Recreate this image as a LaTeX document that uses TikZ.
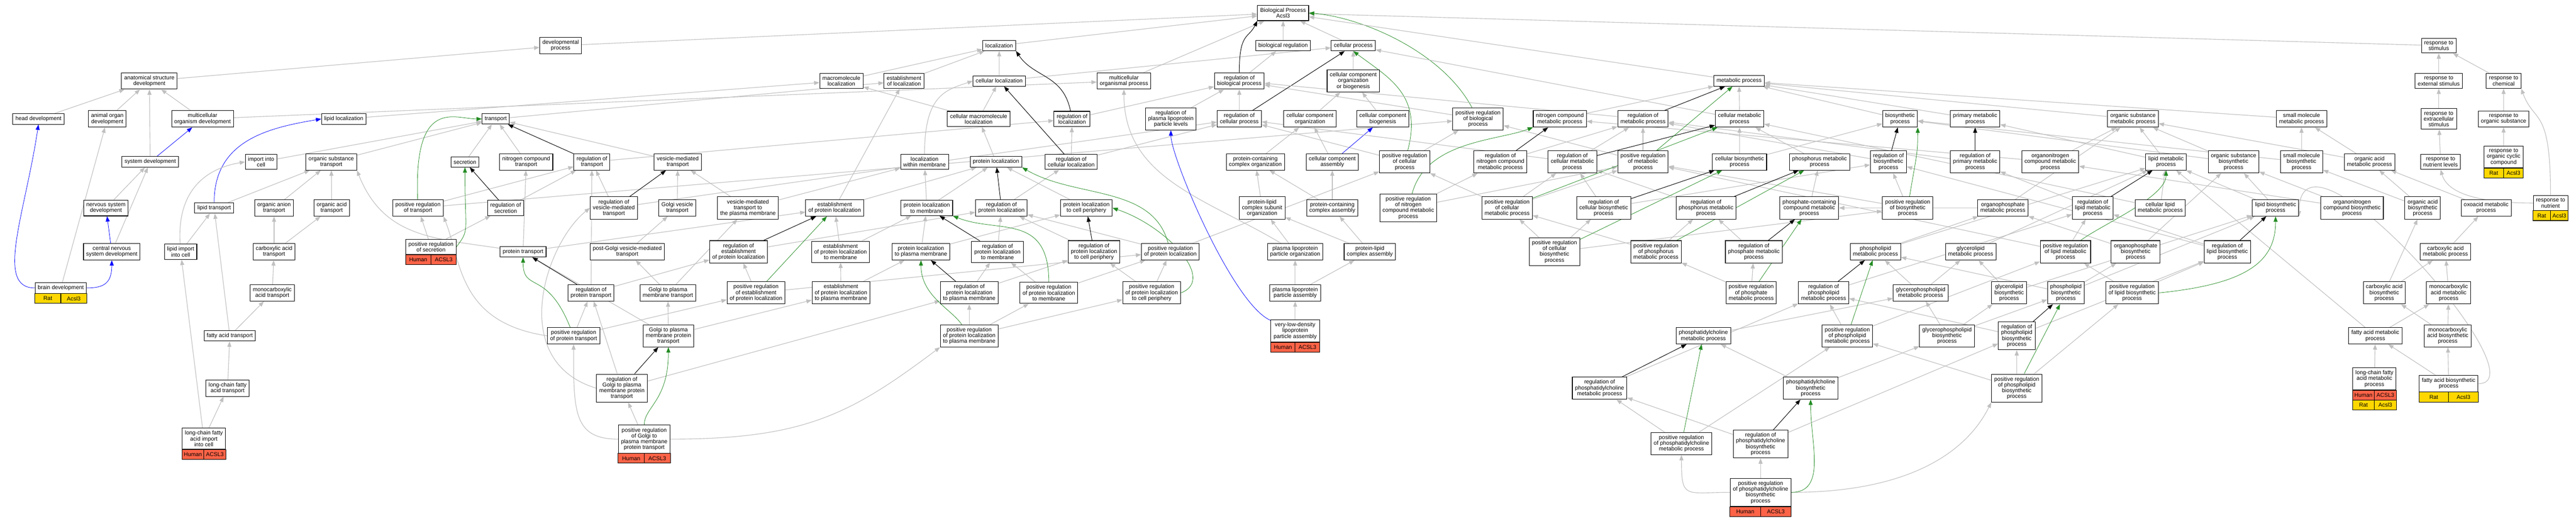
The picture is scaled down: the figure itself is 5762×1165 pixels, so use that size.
\documentclass[tikz,border=0pt]{standalone}
\usepackage{fontspec}
\setmainfont{Liberation Sans}
\usetikzlibrary{arrows.meta, calc, backgrounds}
\definecolor{isagray}{RGB}{192,192,192}
\definecolor{posgreen}{RGB}{34,139,34}
\definecolor{human}{RGB}{255,99,71}
\definecolor{rat}{RGB}{255,215,0}

% gene row under a term: node, offset, species, gene, colour
\newcommand{\generow}[5]{%
  \draw[line width=1.2pt, fill=#5] ($(#1.south west)+(0,#2)$) rectangle ($(#1.south east)+(0,#2+22)$);
  \draw[line width=1.2pt] ($(#1.south)+(0,#2)$) -- ($(#1.south)+(0,#2+22)$);
  \node[genetext] (#1-#3) at ($(#1.south west)!0.25!(#1.south east)+(0,#2+11)$) {#3};
  \node[genetext] (#1-#4) at ($(#1.south west)!0.75!(#1.south east)+(0,#2+11)$) {#4};
}

\begin{document}
\begin{tikzpicture}[
    x=1pt, y=-1pt,
    term/.style={rectangle, draw, line width=1.2pt, fill=white, align=center, inner xsep=6pt, inner ysep=6pt, minimum height=23pt, font=\fontsize{12.5}{13}\selectfont},
    genetext/.style={inner sep=0pt, font=\fontsize{12.5}{13}\selectfont},
    isa/.style={-{Triangle[length=12pt,width=9pt]}, draw=isagray, line width=1.3pt},
    reg/.style={isa, draw=black, line width=1.1pt},
    posreg/.style={isa, draw=posgreen, line width=0.9pt},
    partof/.style={isa, draw=blue, line width=0.9pt}
]
\useasboundingbox (0,0) rectangle (5762,1165);

% row 1
\node[term] (bp) at (2870,29) {Biological Process\\Acsl3};
% row 2
\node[term] (devproc) at (1254,102) {developmental\\process};
\node[term] (loc) at (2235,102) {localization};
\node[term] (bioreg) at (2870,102) {biological regulation};
\node[term] (cellproc) at (3027,102) {cellular process};
\node[term] (respstim) at (5455,102) {response to\\stimulus};
% row 3
\node[term] (asdev) at (334,181) {anatomical structure\\development};
\node[term] (macroloc) at (1882,181) {macromolecule\\localization};
\node[term] (estloc) at (2022,181) {establishment\\of localization};
\node[term] (cellloc) at (2235,181) {cellular localization};
\node[term] (mcorgproc) at (2514,181) {multicellular\\organismal process};
\node[term] (regbio) at (2772,181) {regulation of\\biological process};
\node[term] (ccob) at (3027,181) {cellular component\\organization\\or biogenesis};
\node[term] (metab) at (3890,181) {metabolic process};
\node[term] (respext) at (5455,181) {response to\\external stimulus};
\node[term] (respchem) at (5600,181) {response to\\chemical};
% row 4
\node[term] (headdev) at (86,266) {head development};
\node[term] (organdev) at (240,266) {animal organ\\development};
\node[term] (mcodev) at (453,266) {multicellular\\organism development};
\node[term] (lipidloc) at (769,266) {lipid localization};
\node[term] (transport) at (1109,266) {transport};
\node[term] (cmacroloc) at (2189,266) {cellular macromolecule\\localization};
\node[term] (regloc) at (2398,266) {regulation of\\localization};
\node[term] (regplpl) at (2619,266) {regulation of\\plasma lipoprotein\\particle levels};
\node[term] (regcell) at (2772,266) {regulation of\\cellular process};
\node[term] (ccorg) at (2930,266) {cellular component\\organization};
\node[term] (ccbio) at (3093,266) {cellular component\\biogenesis};
\node[term] (posbio) at (3306,266) {positive regulation\\of biological\\process};
\node[term] (ncmp) at (3489,266) {nitrogen compound\\metabolic process};
\node[term] (regmet) at (3675,266) {regulation of\\metabolic process};
\node[term] (cmp) at (3891,266) {cellular metabolic\\process};
\node[term] (biosyn) at (4250,266) {biosynthetic\\process};
\node[term] (primet) at (4418,266) {primary metabolic\\process};
\node[term] (osmp) at (4771,266) {organic substance\\metabolic process};
\node[term] (smmp) at (5148,266) {small molecule\\metabolic process};
\node[term] (respextra) at (5455,266) {response to\\extracellular\\stimulus};
\node[term] (resporg) at (5600,266) {response to\\organic substance};
% row 5
\node[term] (sysdev) at (336,362) {system development};
\node[term] (import) at (584,362) {import into\\cell};
\node[term] (ostrans) at (741,362) {organic substance\\transport};
\node[term] (secretion) at (1040,362) {secretion};
\node[term] (ntrans) at (1177,362) {nitrogen compound\\transport};
\node[term] (regtrans) at (1324,362) {regulation of\\transport};
\node[term] (vesic) at (1516,362) {vesicle-mediated\\transport};
\node[term] (locmem) at (2068,362) {localization\\within membrane};
\node[term] (protloc) at (2228,362) {protein localization};
\node[term] (regcloc) at (2396,362) {regulation of\\cellular localization};
\node[term] (pccorg) at (2808,362) {protein-containing\\complex organization};
\node[term] (ccass) at (2980,362) {cellular component\\assembly};
\node[term] (poscell) at (3142,362) {positive regulation\\of cellular\\process};
\node[term] (regncmp) at (3356,362) {regulation of\\nitrogen compound\\metabolic process};
\node[term] (regcmp) at (3517,362) {regulation of\\cellular metabolic\\process};
\node[term] (posmet) at (3675,362) {positive regulation\\of metabolic\\process};
\node[term] (cbp) at (3891,362) {cellular biosynthetic\\process};
\node[term] (phosmp) at (4070,362) {phosphorus metabolic\\process};
\node[term] (regbiosyn) at (4224,362) {regulation of\\biosynthetic\\process};
\node[term] (regprimet) at (4418,362) {regulation of\\primary metabolic\\process};
\node[term] (oncmp) at (4586,362) {organonitrogen\\compound metabolic\\process};
\node[term] (lmp) at (4845,362) {lipid metabolic\\process};
\node[term] (osbp) at (4996,362) {organic substance\\biosynthetic\\process};
\node[term] (smbp) at (5148,362) {small molecule\\biosynthetic\\process};
\node[term] (oamp) at (5300,362) {organic acid\\metabolic process};
\node[term] (respnutlev) at (5459,362) {response to\\nutrient levels};
\node[term] (respcyc) at (5600,351) {response to\\organic cyclic\\compound};
% row 6
\node[term] (nsdev) at (237,465) {nervous system\\development};
\node[term] (liptrans) at (479,465) {lipid transport};
\node[term] (oantrans) at (613,465) {organic anion\\transport};
\node[term] (oactrans) at (742,465) {organic acid\\transport};
\node[term] (postrans) at (935,465) {positive regulation\\of transport};
\node[term] (regsec) at (1131,465) {regulation of\\secretion};
\node[term] (regvesic) at (1373,465) {regulation of\\vesicle-mediated\\transport};
\node[term] (golgives) at (1515,465) {Golgi vesicle\\transport};
\node[term] (vesicpm) at (1673,465) {vesicle-mediated\\transport to\\the plasma membrane};
\node[term] (estprot) at (1867,465) {establishment\\of protein localization};
\node[term] (protmem) at (2073,465) {protein localization\\to membrane};
\node[term] (regprot) at (2240,465) {regulation of\\protein localization};
\node[term] (protperi) at (2430,465) {protein localization\\to cell periphery};
\node[term] (plcso) at (2823,465) {protein-lipid\\complex subunit\\organization};
\node[term] (pccass) at (2980,465) {protein-containing\\complex assembly};
\node[term] (posncmp) at (3150,465) {positive regulation\\of nitrogen\\compound metabolic\\process};
\node[term] (poscmp) at (3371,465) {positive regulation\\of cellular\\metabolic process};
\node[term] (regcbp) at (3587,465) {regulation of\\cellular biosynthetic\\process};
\node[term] (regphos) at (3816,465) {regulation of\\phosphorus metabolic\\process};
\node[term] (pccmp) at (4047,465) {phosphate-containing\\compound metabolic\\process};
\node[term] (posbiosyn) at (4267,465) {positive regulation\\of biosynthetic\\process};
\node[term] (opmp) at (4480,465) {organophosphate\\metabolic process};
\node[term] (reglmp) at (4681,465) {regulation of\\lipid metabolic\\process};
\node[term] (clmp) at (4832,465) {cellular lipid\\metabolic process};
\node[term] (lbp) at (5090,465) {lipid biosynthetic\\process};
\node[term] (oncbp) at (5261,465) {organonitrogen\\compound biosynthetic\\process};
\node[term] (oabp) at (5419,465) {organic acid\\biosynthetic\\process};
\node[term] (oxomp) at (5561,465) {oxoacid metabolic\\process};
\node[term] (respnut) at (5705,454) {response to\\nutrient};
% row 7
\node[term] (cnsdev) at (250,563) {central nervous\\system development};
\node[term] (lipimport) at (404,563) {lipid import\\into cell};
\node[term] (catrans) at (613,563) {carboxylic acid\\transport};
\node[term] (possec) at (964,552) {positive regulation\\of secretion};
\node[term] (prottrans) at (1170,563) {protein transport};
\node[term] (postgolgi) at (1403,563) {post-Golgi vesicle-mediated\\transport};
\node[term] (regestprot) at (1652,563) {regulation of\\establishment\\of protein localization};
\node[term] (estprotmem) at (1880,563) {establishment\\of protein localization\\to membrane};
\node[term] (protpm) at (2060,563) {protein localization\\to plasma membrane};
\node[term] (regprotmem) at (2231,563) {regulation of\\protein localization\\to membrane};
\node[term] (regprotperi) at (2447,563) {regulation of\\protein localization\\to cell periphery};
\node[term] (posprot) at (2618,563) {positive regulation\\of protein localization};
\node[term] (plpo) at (2897,563) {plasma lipoprotein\\particle organization};
\node[term] (plca) at (3064,563) {protein-lipid\\complex assembly};
\node[term] (poscbp) at (3477,563) {positive regulation\\of cellular\\biosynthetic\\process};
\node[term] (posphos) at (3704,563) {positive regulation\\of phosphorus\\metabolic process};
\node[term] (regphosph) at (3923,563) {regulation of\\phosphate metabolic\\process};
\node[term] (plmp) at (4195,563) {phospholipid\\metabolic process};
\node[term] (glmp) at (4408,563) {glycerolipid\\metabolic process};
\node[term] (poslmp) at (4620,563) {positive regulation\\of lipid metabolic\\process};
\node[term] (opbp) at (4777,563) {organophosphate\\biosynthetic\\process};
\node[term] (reglbp) at (4982,563) {regulation of\\lipid biosynthetic\\process};
\node[term] (camp) at (5470,563) {carboxylic acid\\metabolic process};
% row 8
\node[term] (braindev) at (136,644) {brain development};
\node[term] (mctrans) at (609,655) {monocarboxylic\\acid transport};
\node[term] (regprottrans) at (1322,655) {regulation of\\protein transport};
\node[term] (golgipm) at (1494,655) {Golgi to plasma\\membrane transport};
\node[term] (posestprot) at (1691,655) {positive regulation\\of establishment\\of protein localization};
\node[term] (estprotpm) at (1881,655) {establishment\\of protein localization\\to plasma membrane};
\node[term] (regprotpm) at (2168,655) {regulation of\\protein localization\\to plasma membrane};
\node[term] (posprotmem) at (2346,655) {positive regulation\\of protein localization\\to membrane};
\node[term] (posprotperi) at (2576,655) {positive regulation\\of protein localization\\to cell periphery};
\node[term] (plpa) at (2897,655) {plasma lipoprotein\\particle assembly};
\node[term] (posphosph) at (3917,655) {positive regulation\\of phosphate\\metabolic process};
\node[term] (regplmp) at (4079,655) {regulation of\\phospholipid\\metabolic process};
\node[term] (gplmp) at (4296,655) {glycerophospholipid\\metabolic process};
\node[term] (glbp) at (4494,655) {glycerolipid\\biosynthetic\\process};
\node[term] (plbp) at (4621,655) {phospholipid\\biosynthetic\\process};
\node[term] (poslbp) at (4769,655) {positive regulation\\of lipid biosynthetic\\process};
\node[term] (cabp) at (5333,655) {carboxylic acid\\biosynthetic\\process};
\node[term] (mamp) at (5477,655) {monocarboxylic\\acid metabolic\\process};
% row 9
\node[term] (fatrans) at (514,751) {fatty acid transport};
\node[term] (posprottrans) at (1283,751) {positive regulation\\of protein transport};
\node[term] (golgipmprot) at (1495,751) {Golgi to plasma\\membrane protein\\transport};
\node[term] (posprotpm) at (2168,751) {positive regulation\\of protein localization\\to plasma membrane};
\node[term] (vldl) at (2897,740) {very-low-density\\lipoprotein\\particle assembly};
\node[term] (pcmp) at (3810,751) {phosphatidylcholine\\metabolic process};
\node[term] (posplmp) at (4132,751) {positive regulation\\of phospholipid\\metabolic process};
\node[term] (gplbp) at (4355,751) {glycerophospholipid\\biosynthetic\\process};
\node[term] (regplbp) at (4511,751) {regulation of\\phospholipid\\biosynthetic\\process};
\node[term] (famp) at (5313,751) {fatty acid metabolic\\process};
\node[term] (mabp) at (5475,751) {monocarboxylic\\acid biosynthetic\\process};
% row 10
\node[term] (lcfatrans) at (509,868) {long-chain fatty\\acid transport};
\node[term] (reggolgi) at (1391,868) {regulation of\\Golgi to plasma\\membrane protein\\transport};
\node[term] (regpcmp) at (3578,868) {regulation of\\phosphatidylcholine\\metabolic process};
\node[term] (pcbp) at (4050,868) {phosphatidylcholine\\biosynthetic\\process};
\node[term] (posplbp) at (4511,868) {positive regulation\\of phospholipid\\biosynthetic\\process};
\node[term] (lcfamp) at (5311,847) {long-chain fatty\\acid metabolic\\process};
\node[term] (fabp) at (5477,858) {fatty acid biosynthetic\\process};
% row 11
\node[term] (lcfaimport) at (456,981) {long-chain fatty\\acid import\\into cell};
\node[term] (posgolgi) at (1441,982) {positive regulation\\of Golgi to\\plasma membrane\\protein transport};
\node[term] (pospcmp) at (3761,992) {positive regulation\\of phosphatidylcholine\\metabolic process};
\node[term] (regpcbp) at (3938,993) {regulation of\\phosphatidylcholine\\biosynthetic\\process};
% row 12
\node[term] (pospcbp) at (3938,1101) {positive regulation\\of phosphatidylcholine\\biosynthetic\\process};

% annotations
\generow{respcyc}{0}{Rat}{Acsl3}{rat}
\generow{respnut}{0}{Rat}{Acsl3}{rat}
\generow{possec}{0}{Human}{ACSL3}{human}
\generow{braindev}{0}{Rat}{Acsl3}{rat}
\generow{vldl}{0}{Human}{ACSL3}{human}
\generow{lcfamp}{0}{Human}{ACSL3}{human}
\generow{lcfamp}{22}{Rat}{Acsl3}{rat}
\generow{fabp}{0}{Rat}{Acsl3}{rat}
\generow{lcfaimport}{0}{Human}{ACSL3}{human}
\generow{posgolgi}{0}{Human}{ACSL3}{human}
\generow{pospcbp}{0}{Human}{ACSL3}{human}

\begin{scope}[on background layer]
\fill[white] (0,0) rectangle (5762,1165);
% development
\draw[isa] (asdev) -- (devproc);
\draw[isa] (headdev) -- (asdev);
\draw[isa] (organdev) -- (asdev);
\draw[isa] (sysdev) -- (asdev);
\draw[isa] (mcodev) -- (asdev);
\draw[isa] (mcodev) -- (mcorgproc);
\draw[isa] (nsdev) -- (sysdev);
\draw[isa] (cnsdev) -- (sysdev);
\draw[isa] (braindev) -- (organdev);
\draw[isa] (devproc) -- (bp);
\draw[isa] (mcorgproc) -- (bp);
\draw[partof] (sysdev) -- (mcodev);
\draw[partof] (cnsdev) -- (nsdev);
\draw[partof] (braindev.east) .. controls +(40,0) and +(0,50) .. (cnsdev.south);
\draw[partof] (braindev.west) .. controls +(-90,0) and +(-30,200) .. (headdev.south);
% transport
\draw[partof] (liptrans) .. controls +(0,-150) and +(-120,20) .. (lipidloc.west);
\draw[isa] (lipidloc) -- (macroloc);
\draw[isa] (liptrans) -- (ostrans);
\draw[isa] (lipimport) -- (liptrans);
\draw[isa] (lipimport) .. controls +(-10,-160) and +(-60,10) .. (import.west);
\draw[isa] (import) -- (transport);
\draw[isa] (ostrans) -- (transport);
\draw[isa] (oantrans) -- (ostrans);
\draw[isa] (oactrans) -- (ostrans);
\draw[isa] (catrans) -- (oantrans);
\draw[isa] (catrans) -- (oactrans);
\draw[isa] (mctrans) -- (catrans);
\draw[isa] (fatrans) -- (mctrans);
\draw[isa] (fatrans) -- (liptrans);
\draw[isa] (lcfatrans) -- (fatrans);
\draw[isa] (lcfaimport) -- (lcfatrans);
\draw[isa] (lcfaimport) -- (lipimport);
\draw[isa] (transport) -- (estloc);
\draw[isa] (secretion) -- (transport);
\draw[isa] (ntrans) -- (transport);
\draw[isa] (vesic) -- (transport);
\draw[isa] (regtrans) -- (regloc);
\draw[isa] (postrans) -- (regtrans);
\draw[isa] (postrans) -- (posbio);
\draw[isa] (regsec) -- (regtrans);
\draw[isa] (possec) -- (regsec);
\draw[isa] (possec) -- (postrans);
\draw[isa] (regvesic) -- (regtrans);
\draw[isa] (regvesic) -- (regcell);
\draw[isa] (golgives) -- (vesic);
\draw[isa] (vesicpm) -- (vesic);
\draw[isa] (vesicpm) -- (locmem);
\draw[isa] (estprot) -- (estloc);
\draw[isa] (estprot) -- (protloc);
\draw[isa] (prottrans) .. controls +(-200,-30) and +(60,150) .. (ostrans.south east);
\draw[isa] (prottrans) -- (ntrans);
\draw[isa] (prottrans) -- (estprot);
\draw[isa] (regprottrans) -- (regtrans);
\draw[isa] (regprottrans) -- (regestprot);
\draw[isa] (golgipm) -- (postgolgi);
\draw[isa] (golgipm) -- (vesicpm);
\draw[isa] (postgolgi) -- (golgives);
\draw[isa] (regestprot) -- (regprot);
\draw[isa] (posestprot) -- (regestprot);
\draw[isa] (posestprot) -- (posprot);
\draw[isa] (estprotmem) -- (estprot);
\draw[isa] (estprotmem) -- (protmem);
\draw[isa] (estprotpm) -- (estprotmem);
\draw[isa] (estprotpm) -- (protpm);
\draw[isa] (posprottrans) -- (regprottrans);
\draw[isa] (posprottrans.west) .. controls +(-200,-30) and +(40,100) .. (postrans.south east);
\draw[isa] (posprottrans) -- (posestprot);
\draw[isa] (golgipmprot) -- (golgipm);
\draw[isa] (golgipmprot) -- (prottrans);
\draw[isa] (golgipmprot) -- (estprotpm);
\draw[isa] (reggolgi) -- (regprottrans);
\draw[isa] (reggolgi.west) .. controls +(-200,-60) and +(-100,80) .. (regvesic.west);
\draw[isa] (reggolgi) -- (regprotpm);
\draw[isa] (posgolgi) -- (reggolgi);
\draw[isa] (posgolgi.west) .. controls +(-100,0) and +(0,150) .. (posprottrans.south);
\draw[isa] (posgolgi.east) .. controls +(300,0) and +(-200,150) .. (posprotpm.south west);
\draw[reg] (regtrans) -- (transport);
\draw[reg] (regsec) -- (secretion);
\draw[reg] (regvesic) -- (vesic);
\draw[reg] (regprottrans) -- (prottrans);
\draw[reg] (regestprot) -- (estprot);
\draw[reg] (reggolgi) -- (golgipmprot);
\draw[posreg] (postrans) .. controls +(-10,-250) and +(-60,0) .. (transport.west);
\draw[posreg] (possec.east) .. controls +(30,-40) and +(0,150) .. (secretion.south);
\draw[posreg] (posprottrans) .. controls +(-60,-150) and +(0,80) .. (prottrans.south);
\draw[posreg] (posestprot) -- (estprot);
\draw[posreg] (posgolgi.north) .. controls +(0,-40) and +(0,120) .. (golgipmprot.south);
% localization
\draw[isa] (macroloc) -- (loc);
\draw[isa] (estloc) -- (loc);
\draw[isa] (cellloc) -- (loc);
\draw[isa] (cellloc) -- (cellproc);
\draw[isa] (cmacroloc) -- (cellloc);
\draw[isa] (cmacroloc) -- (macroloc);
\draw[isa] (regloc) -- (regbio);
\draw[isa] (locmem) .. controls +(0,-150) and +(-60,20) .. (cellloc.west);
\draw[isa] (protloc) -- (cmacroloc);
\draw[isa] (regcloc) -- (regloc);
\draw[isa] (regcloc) -- (regcell);
\draw[isa] (protmem) -- (protloc);
\draw[isa] (protmem) -- (locmem);
\draw[isa] (regprot) -- (regcloc);
\draw[isa] (protperi) -- (protloc);
\draw[isa] (protpm) -- (protmem);
\draw[isa] (protpm) -- (protperi);
\draw[isa] (regprotmem) -- (regprot);
\draw[isa] (regprotperi) -- (regprot);
\draw[isa] (posprot) -- (regprot);
\draw[isa] (posprot) -- (poscell);
\draw[isa] (regprotpm) -- (regprotmem);
\draw[isa] (regprotpm) -- (regprotperi);
\draw[isa] (posprotmem) -- (regprotmem);
\draw[isa] (posprotmem) -- (posprot);
\draw[isa] (posprotperi) -- (regprotperi);
\draw[isa] (posprotperi) -- (posprot);
\draw[isa] (posprotpm) -- (regprotpm);
\draw[isa] (posprotpm) -- (posprotmem);
\draw[isa] (posprotpm) -- (posprotperi);
\draw[isa] (loc) -- (bp);
\draw[reg] (regloc) .. controls +(-20,-100) and +(40,60) .. (loc.south east);
\draw[reg] (regcloc) -- (cellloc);
\draw[reg] (regprot) -- (protloc);
\draw[reg] (regprotmem) -- (protmem);
\draw[reg] (regprotperi) -- (protperi);
\draw[reg] (regprotpm) -- (protpm);
\draw[posreg] (posprot) .. controls +(-40,-150) and +(120,70) .. (protloc.south east);
\draw[posreg] (posprotmem) .. controls +(0,-180) and +(100,40) .. (protmem.south east);
\draw[posreg] (posprotperi.east) .. controls +(80,-30) and +(120,40) .. (protperi.east);
\draw[posreg] (posprotpm) .. controls +(-40,-60) and +(0,80) .. (protpm.south);
% cellular components
\draw[isa] (ccob) -- (cellproc);
\draw[isa] (ccorg) -- (ccob);
\draw[isa] (ccbio) -- (ccob);
\draw[isa] (ccass) -- (ccorg);
\draw[isa] (pccorg) -- (ccorg);
\draw[isa] (pccass) -- (pccorg);
\draw[isa] (pccass) -- (ccass);
\draw[isa] (plcso) -- (pccorg);
\draw[isa] (plca) -- (pccass);
\draw[isa] (plca) -- (plcso);
\draw[isa] (plpo) -- (plcso);
\draw[isa] (plpo) .. controls +(-200,-120) and +(0,200) .. (mcorgproc.south);
\draw[isa] (plpa) -- (plpo);
\draw[isa] (plpa) -- (plca);
\draw[isa] (vldl) -- (plpa);
\draw[isa] (regbio) -- (bioreg);
\draw[isa] (regcell) -- (regbio);
\draw[isa] (posbio) -- (regbio);
\draw[isa] (poscell) -- (regcell);
\draw[isa] (poscell) -- (posbio);
\draw[isa] (regplpl) -- (regbio);
\draw[isa] (bioreg) -- (bp);
\draw[isa] (cellproc) -- (bp);
\draw[isa] (respstim) -- (bp);
\draw[partof] (ccass) -- (ccbio);
\draw[partof] (vldl) .. controls +(-140,-60) and +(0,60) .. (regplpl.south);
\draw[reg] (regbio.north) .. controls +(0,-90) and +(-20,40) .. (bp.south west);
\draw[reg] (regcell) -- (cellproc);
\draw[posreg] (posbio) .. controls +(-80,-150) and +(120,10) .. (bp.east);
\draw[posreg] (poscell) .. controls +(40,-150) and +(80,60) .. (cellproc.south);
% metabolism
\draw[isa] (metab) -- (bp);
\draw[isa] (cmp) -- (metab);
\draw[isa] (cmp) -- (cellproc);
\draw[isa] (ncmp) -- (metab);
\draw[isa] (regmet) -- (regbio);
\draw[isa] (biosyn) -- (metab);
\draw[isa] (primet) -- (metab);
\draw[isa] (osmp) -- (metab);
\draw[isa] (smmp) -- (metab);
\draw[isa] (cbp) -- (cmp);
\draw[isa] (cbp) -- (biosyn);
\draw[isa] (phosmp) -- (cmp);
\draw[isa] (regncmp) -- (regmet);
\draw[isa] (regcmp) -- (regmet);
\draw[isa] (regcmp) -- (regcell);
\draw[isa] (posmet) -- (regmet);
\draw[isa] (posmet) -- (posbio);
\draw[isa] (regbiosyn) -- (regmet);
\draw[isa] (regprimet) -- (regmet);
\draw[isa] (oncmp) -- (osmp);
\draw[isa] (oncmp) -- (ncmp);
\draw[isa] (lmp) -- (osmp);
\draw[isa] (lmp) -- (primet);
\draw[isa] (osbp) -- (osmp);
\draw[isa] (osbp) -- (biosyn);
\draw[isa] (smbp) -- (smmp);
\draw[isa] (smbp) -- (biosyn);
\draw[isa] (oamp) -- (smmp);
\draw[isa] (oamp) -- (osmp);
\draw[isa] (regcbp) -- (regbiosyn);
\draw[isa] (regcbp) -- (regcmp);
\draw[isa] (posncmp) -- (regncmp);
\draw[isa] (posncmp) -- (posmet);
\draw[isa] (poscmp) -- (regcmp);
\draw[isa] (poscmp) -- (poscell);
\draw[isa] (poscmp) -- (posmet);
\draw[isa] (regphos) -- (regcmp);
\draw[isa] (pccmp) -- (phosmp);
\draw[isa] (posbiosyn) -- (regbiosyn);
\draw[isa] (posbiosyn) -- (posmet);
\draw[isa] (opmp) -- (pccmp);
\draw[isa] (opmp) -- (osmp);
\draw[isa] (reglmp) -- (regprimet);
\draw[isa] (clmp) -- (lmp);
\draw[isa] (clmp) -- (cmp);
\draw[isa] (lbp) -- (lmp);
\draw[isa] (lbp) -- (osbp);
\draw[isa] (oncbp) -- (oncmp);
\draw[isa] (oncbp) -- (osbp);
\draw[isa] (oabp) -- (oamp);
\draw[isa] (oabp) -- (smbp);
\draw[isa] (oxomp) -- (oamp);
\draw[isa] (poscbp) -- (regcbp);
\draw[isa] (poscbp) -- (poscmp);
\draw[isa] (poscbp) -- (posbiosyn);
\draw[isa] (posphos) -- (regphos);
\draw[isa] (posphos) -- (poscmp);
\draw[isa] (regphosph) -- (regphos);
\draw[isa] (plmp) -- (opmp);
\draw[isa] (plmp) -- (lmp);
\draw[isa] (glmp) -- (lmp);
\draw[isa] (poslmp) -- (reglmp);
\draw[isa] (poslmp) -- (posmet);
\draw[isa] (opbp) -- (opmp);
\draw[isa] (opbp) -- (osbp);
\draw[isa] (reglbp) -- (reglmp);
\draw[isa] (reglbp) -- (regbiosyn);
\draw[isa] (camp) -- (oxomp);
\draw[isa] (posphosph) -- (regphosph);
\draw[isa] (posphosph) -- (posphos);
\draw[isa] (regplmp) -- (reglmp);
\draw[isa] (gplmp) -- (plmp);
\draw[isa] (gplmp) -- (glmp);
\draw[isa] (glbp) -- (glmp);
\draw[isa] (glbp) -- (lbp);
\draw[isa] (plbp) -- (plmp);
\draw[isa] (plbp) -- (lbp);
\draw[isa] (plbp) -- (opbp);
\draw[isa] (poslbp) -- (reglbp);
\draw[isa] (poslbp) -- (poslmp);
\draw[isa] (cabp) -- (camp);
\draw[isa] (cabp) -- (oabp);
\draw[isa] (mamp) -- (camp);
\draw[isa] (pcmp) -- (gplmp);
\draw[isa] (posplmp) -- (regplmp);
\draw[isa] (posplmp) -- (poslmp);
\draw[isa] (gplbp) -- (gplmp);
\draw[isa] (gplbp) -- (glbp);
\draw[isa] (gplbp) -- (plbp);
\draw[isa] (regplbp) -- (regplmp);
\draw[isa] (regplbp) -- (reglbp);
\draw[isa] (famp) -- (mamp);
\draw[isa] (famp) -- (lmp);
\draw[isa] (mabp) -- (mamp);
\draw[isa] (mabp) -- (cabp);
\draw[isa] (regpcmp) -- (regplmp);
\draw[isa] (pcbp) -- (pcmp);
\draw[isa] (pcbp) -- (gplbp);
\draw[isa] (posplbp) -- (regplbp);
\draw[isa] (posplbp) -- (posplmp);
\draw[isa] (posplbp) -- (poslbp);
\draw[isa] (lcfamp) -- (famp);
\draw[isa] (fabp) -- (famp);
\draw[isa] (fabp) -- (mabp);
\draw[isa] (fabp.east) .. controls +(150,0) and +(0,-250) .. (lbp.south east);
\draw[isa] (pospcmp) -- (regpcmp);
\draw[isa] (pospcmp) -- (posplmp);
\draw[isa] (regpcbp) -- (regpcmp);
\draw[isa] (regpcbp) -- (regplbp);
\draw[isa] (pospcbp) -- (regpcbp);
\draw[isa] (pospcbp.west) .. controls +(-100,0) and +(0,100) .. (pospcmp.south);
\draw[isa] (pospcbp.east) .. controls +(250,0) and +(-60,120) .. (posplbp.south west);
\draw[reg] (regmet) -- (metab);
\draw[reg] (regncmp) -- (ncmp);
\draw[reg] (regcmp) -- (cmp);
\draw[reg] (regbiosyn) -- (biosyn);
\draw[reg] (regprimet) -- (primet);
\draw[reg] (regcbp) -- (cbp);
\draw[reg] (regphos) -- (phosmp);
\draw[reg] (reglmp) -- (lmp);
\draw[reg] (regphosph) -- (pccmp);
\draw[reg] (regplmp) -- (plmp);
\draw[reg] (reglbp) -- (lbp);
\draw[reg] (regplbp) -- (plbp);
\draw[reg] (regpcmp) -- (pcmp);
\draw[reg] (regpcbp) -- (pcbp);
\draw[posreg] (posmet) -- (metab);
\draw[posreg] (posncmp) .. controls +(40,-150) and +(-80,30) .. (ncmp.south west);
\draw[posreg] (poscmp) -- (cmp);
\draw[posreg] (posbiosyn) .. controls +(20,-120) and +(0,60) .. (biosyn.south east);
\draw[posreg] (poscbp) -- (cbp);
\draw[posreg] (posphos) -- (phosmp);
\draw[posreg] (poslmp) .. controls +(80,-60) and +(0,60) .. (lmp.south);
\draw[posreg] (posphosph) -- (pccmp);
\draw[posreg] (poslbp.east) .. controls +(200,-20) and +(0,100) .. (lbp.south);
\draw[posreg] (posplmp) -- (plmp);
\draw[posreg] (posplbp) -- (plbp);
\draw[posreg] (pospcmp) -- (pcmp);
\draw[posreg] (pospcbp.east) .. controls +(80,0) and +(0,100) .. (pcbp.south);
% responses
\draw[isa] (respext) -- (respstim);
\draw[isa] (respchem) -- (respstim);
\draw[isa] (respextra) -- (respext);
\draw[isa] (resporg) -- (respchem);
\draw[isa] (respnutlev) -- (respextra);
\draw[isa] (respcyc) -- (resporg);
\draw[isa] (respnut.west) .. controls +(-60,0) and +(20,70) .. (respnutlev.south);
\draw[isa] (respnut.north) .. controls +(0,-200) and +(30,80) .. (respchem.south east);
\end{scope}
\end{tikzpicture}
\end{document}
